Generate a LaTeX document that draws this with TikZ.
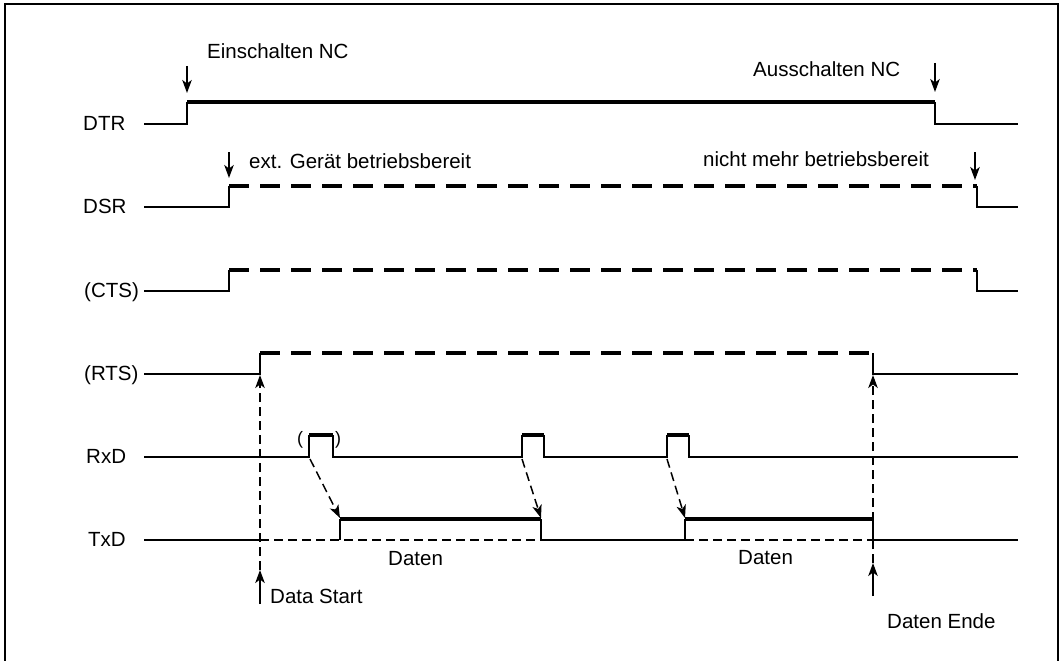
\documentclass[tikz,border=0pt]{standalone}
\usepackage{fontspec}
\setmainfont{Liberation Sans}
\usetikzlibrary{arrows.meta}
\begin{document}
\begin{tikzpicture}[x=1pt,y=-1pt,
  frame/.style={line width=1.6pt},
  sig/.style={line width=1.5pt},
  hi/.style={line width=4pt},
  hidash/.style={line width=4.2pt, dash pattern=on 20pt off 11pt},
  thindash/.style={line width=1.5pt, dash pattern=on 9pt off 5pt},
  arr/.style={-{Stealth[length=13pt,width=9.5pt,inset=3.5pt]}},
  lbl/.style={font=\fontsize{20.5}{24}\selectfont, inner sep=0pt, anchor=base west},
]
\useasboundingbox (0,0) rectangle (1063,661);
\draw[frame] (5,665) -- (5,4) -- (1058,4) -- (1058,665);

% signal labels
\node[lbl] (lDTR) at (83,130) {DTR};
\node[lbl] (lDSR) at (83,213) {DSR};
\node[lbl] (lCTS) at (84,297) {(CTS)};
\node[lbl] (lRTS) at (84,380) {(RTS)};
\node[lbl] (lRxD) at (86,463) {RxD};
\node[lbl] (lTxD) at (88,546) {TxD};

% DTR
\draw[sig] (144,124) -- (187,124) -- (187,102);
\draw[hi] (187,102) -- (935,102);
\draw[sig] (935,102) -- (935,124) -- (1018,124);

% DSR
\draw[sig] (144,207) -- (229,207) -- (229,186);
\draw[hidash] (229,186) -- (977,186);
\draw[sig] (977,186) -- (977,207) -- (1018,207);

% CTS
\draw[sig] (144,291) -- (229,291) -- (229,270);
\draw[hidash] (229,270) -- (977,270);
\draw[sig] (977,270) -- (977,291) -- (1018,291);

% RTS
\draw[sig] (144,374) -- (260,374) -- (260,353);
\draw[hidash] (260,353) -- (873,353);
\draw[sig] (873,353) -- (873,374) -- (1018,374);

% RxD
\draw[sig] (144,457) -- (309,457) -- (309,435);
\draw[hi] (309,435) -- (333,435);
\draw[sig] (333,435) -- (333,457) -- (522,457) -- (522,435);
\draw[hi] (522,435) -- (544,435);
\draw[sig] (544,435) -- (544,457) -- (667,457) -- (667,435);
\draw[hi] (667,435) -- (689,435);
\draw[sig] (689,435) -- (689,457) -- (1018,457);
\node[font=\fontsize{18}{20}\selectfont, inner sep=0pt] (pl) at (300,440) {(};
\node[font=\fontsize{18}{20}\selectfont, inner sep=0pt] (pr) at (338,440) {)};

% TxD
\draw[sig] (144,540) -- (260,540);
\draw[thindash] (260,540) -- (541,540);
\draw[sig] (340,540) -- (340,519);
\draw[hi] (340,519) -- (541,519);
\draw[sig] (541,519) -- (541,540) -- (685,540) -- (685,519);
\draw[thindash] (685,540) -- (873,540);
\draw[hi] (685,519) -- (873,519);
\draw[sig] (873,519) -- (873,540) -- (1018,540);

% RxD -> TxD arrows
\coordinate (r1) at (310,459); \coordinate (t1) at (340,518);
\coordinate (r2) at (522,459); \coordinate (t2) at (541,518);
\coordinate (r3) at (667,459); \coordinate (t3) at (685,518);
\draw[thindash,arr] (r1) -- (t1);
\draw[thindash,arr] (r2) -- (t2);
\draw[thindash,arr] (r3) -- (t3);

% top event arrows and texts
\node[lbl] (ein) at (207,59) {Einschalten NC};
\coordinate (a1s) at (187,66); \coordinate (a1e) at (187,93);
\draw[sig,arr] (a1s) -- (a1e);
\node[lbl] (aus) at (753,77) {Ausschalten NC};
\coordinate (a2s) at (935,63); \coordinate (a2e) at (935,92);
\draw[sig,arr] (a2s) -- (a2e);
\node[lbl] (ext) at (249,168) {ext. Gerät betriebsbereit};
\coordinate (a3s) at (229,152); \coordinate (a3e) at (229,178);
\draw[sig,arr] (a3s) -- (a3e);
\node[lbl] (nmb) at (703,166) {nicht mehr betriebsbereit};
\coordinate (a4s) at (975,152); \coordinate (a4e) at (975,180);
\draw[sig,arr] (a4s) -- (a4e);

% Data start / end
\coordinate (ds0) at (260,604); \coordinate (ds1) at (260,570); \coordinate (ds2) at (260,375);
\draw[sig,arr] (ds0) -- (ds1);
\draw[thindash,arr] (ds1) -- (ds2);
\node[lbl] (dst) at (270,603) {Data Start};
\coordinate (de0) at (873,596); \coordinate (de1) at (873,563); \coordinate (de2) at (873,375);
\draw[sig,arr] (de0) -- (de1);
\draw[thindash,arr] (de1) -- (de2);
\node[lbl] (den) at (887,628) {Daten Ende};

\node[lbl] (d1) at (388,565) {Daten};
\node[lbl] (d2) at (738,564) {Daten};
\end{tikzpicture}
\end{document}
